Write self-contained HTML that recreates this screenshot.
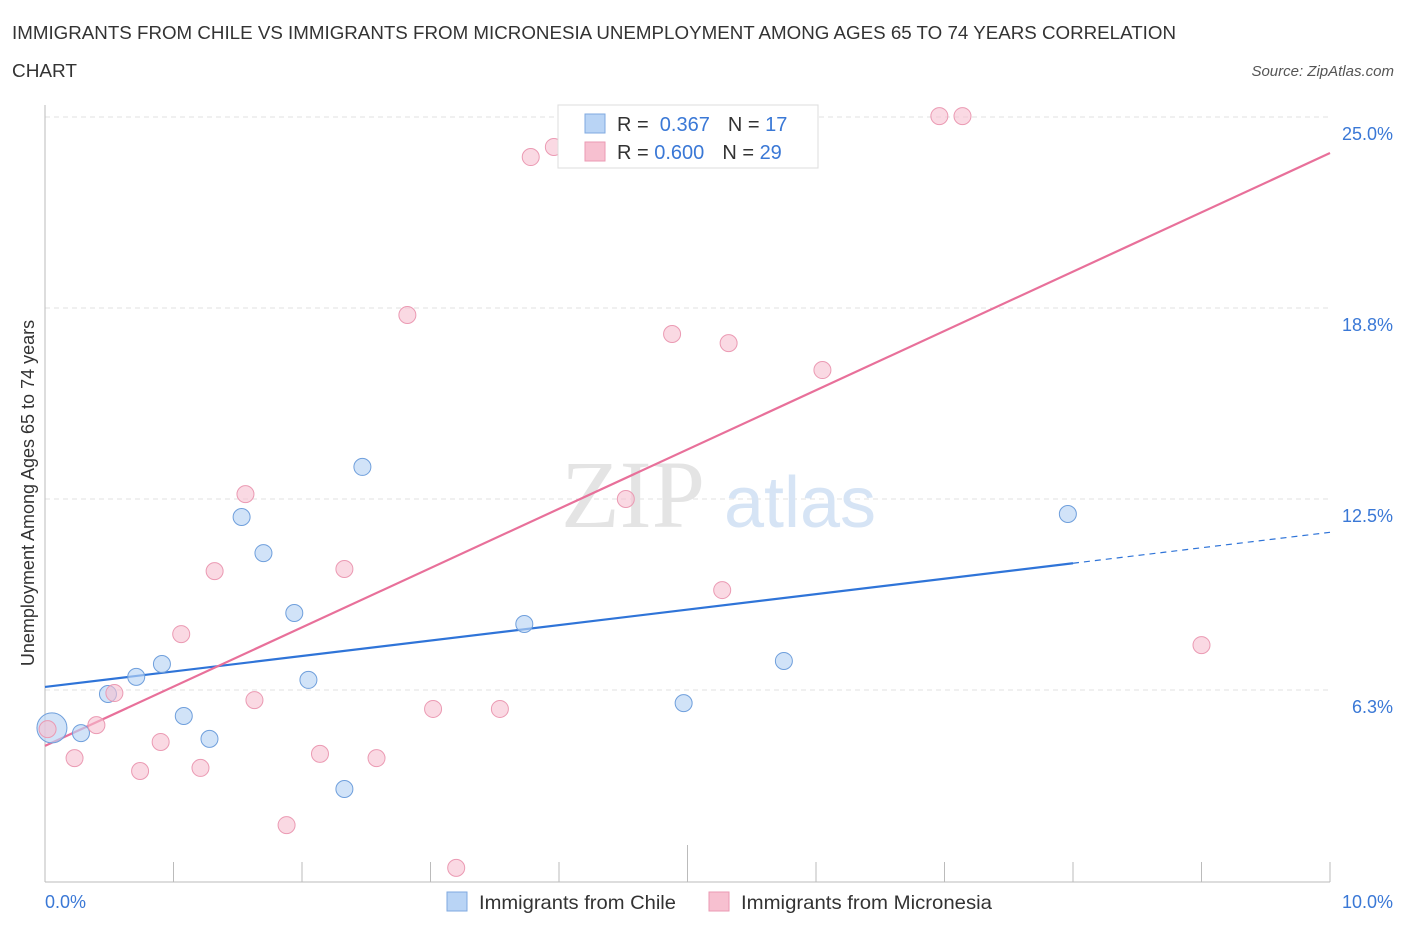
<!DOCTYPE html>
<html><head><meta charset="utf-8"><style>
body{margin:0;background:#fff;font-family:"Liberation Sans",sans-serif;}
svg{display:block}
</style></head><body>
<svg width="1406" height="930" viewBox="0 0 1406 930">
<text x="12" y="39" font-size="18" fill="#333" textLength="1164" lengthAdjust="spacingAndGlyphs">IMMIGRANTS FROM CHILE VS IMMIGRANTS FROM MICRONESIA UNEMPLOYMENT AMONG AGES 65 TO 74 YEARS CORRELATION</text>
<text x="12" y="77" font-size="18" fill="#333" textLength="65" lengthAdjust="spacingAndGlyphs">CHART</text>
<text x="1394" y="76" font-size="15" font-style="italic" fill="#555" text-anchor="end">Source: ZipAtlas.com</text>
<g id="grid"></g>
<g><text x="633" y="527" font-size="96" font-family="Liberation Serif,serif" fill="#e4e4e4" text-anchor="middle">ZIP</text><text x="800" y="527" font-size="72" fill="#d6e4f5" text-anchor="middle">atlas</text></g>
<g id="axes"></g>
<g id="lines"></g>
<g id="pts"></g>
<text x="28" y="493" font-size="18" fill="#333" text-anchor="middle" transform="rotate(-90 28 493)" dy="6">Unemployment Among Ages 65 to 74 years</text>
<text x="45" y="908" font-size="18" fill="#3a78d6">0.0%</text>
<text x="1393" y="908" font-size="18" fill="#3a78d6" text-anchor="end">10.0%</text>
<g>
<rect x="558" y="105" width="260" height="63" fill="#fff" stroke="#ddd"/>
<rect x="585" y="114" width="20" height="19" fill="#b9d4f5" stroke="#7fa9e0"/>
<rect x="585" y="142" width="20" height="19" fill="#f7c0d0" stroke="#eb9ab3"/>
<text x="617" y="131" font-size="20" fill="#333">R = <tspan fill="#3a78d6">&#160;0.367</tspan><tspan dx="18">N = </tspan><tspan fill="#3a78d6"> 17</tspan></text>
<text x="617" y="159" font-size="20" fill="#333">R = <tspan fill="#3a78d6">0.600</tspan><tspan dx="18">N = </tspan><tspan fill="#3a78d6">29</tspan></text>
</g>
<g>
<rect x="447" y="892" width="20" height="19" fill="#b9d4f5" stroke="#7fa9e0"/>
<text x="479" y="909" font-size="19.5" fill="#333" textLength="197" lengthAdjust="spacingAndGlyphs">Immigrants from Chile</text>
<rect x="709" y="892" width="20" height="19" fill="#f7c0d0" stroke="#eb9ab3"/>
<text x="741" y="909" font-size="19.5" fill="#333" textLength="251" lengthAdjust="spacingAndGlyphs">Immigrants from Micronesia</text>
</g>
</svg>
<script>
const chileX=[0.054,0.28,0.49,0.71,0.91,1.08,1.28,1.53,1.70,1.94,2.05,2.33,2.47,3.73,4.97,5.75,7.96];
const chileY=[5.01,4.84,6.12,6.68,7.10,5.40,4.65,11.91,10.73,8.77,6.58,3.01,13.55,8.41,5.82,7.20,12.01];
const microX=[0.02,0.23,0.40,0.54,0.74,0.90,1.06,1.21,1.32,1.56,1.63,1.88,2.14,2.33,2.58,2.82,3.02,3.20,3.54,3.78,3.96,4.52,4.88,5.27,5.32,6.05,6.96,7.14,9.00];
const microY=[4.97,4.02,5.10,6.15,3.60,4.55,8.08,3.70,10.14,12.66,5.92,1.83,4.16,10.21,4.02,18.52,5.63,0.43,5.63,23.69,24.02,12.50,17.90,9.52,17.60,16.72,25.03,25.03,7.72];
const yTicks=[6.25,12.5,18.75,25];
const yTickLabels=["6.3%","12.5%","18.8%","25.0%"];
const chileLine=[6.35,0.506];
const microLine=[4.42,1.94];
const NS="http://www.w3.org/2000/svg";
const sx=v=>45+v*128.5, sy=v=>881-v*30.56;
function mk(t,a,p){const e=document.createElementNS(NS,t);for(const k in a)e.setAttribute(k,a[k]);p.appendChild(e);return e;}
const grid=document.getElementById('grid'),axes=document.getElementById('axes'),lines=document.getElementById('lines'),pts=document.getElementById('pts');
yTicks.forEach((v,i)=>{
 const l=mk('line',{x1:45,x2:1330,y1:sy(v),y2:sy(v),stroke:'#e2e2e2','stroke-dasharray':'5,4'},grid);
 
 
 const t=mk('text',{x:1393,y:sy(v)+23,'font-size':18,fill:'#3a78d6','text-anchor':'end'},axes);
 t.textContent=yTickLabels[i];
 
 
});
mk('line',{x1:45,x2:45,y1:105,y2:882,stroke:'#bbb'},axes);
mk('line',{x1:45,x2:1330,y1:882,y2:882,stroke:'#bbb'},axes);
for(let i=1;i<=10;i++){
 const tk=mk('line',{x1:sx(i),x2:sx(i),y1:i==5?845:862,y2:882,stroke:'#bbb'},axes);
 
 
}
const bl=mk('line',{x1:sx(0),y1:sy(chileLine[0]),x2:sx(8),y2:sy(chileLine[0]+chileLine[1]*8),stroke:'#2f74d8','stroke-width':2.2},lines);


const bd=mk('line',{x1:sx(8),y1:sy(chileLine[0]+chileLine[1]*8),x2:sx(10),y2:sy(chileLine[0]+chileLine[1]*10),stroke:'#2f74d8','stroke-width':1.2,'stroke-dasharray':'6,5'},lines);


const pl=mk('line',{x1:sx(0),y1:sy(microLine[0]),x2:sx(10),y2:sy(microLine[0]+microLine[1]*10),stroke:'#e8709a','stroke-width':2.2},lines);


chileX.forEach((x,i)=>{
 const c=mk('circle',{cx:sx(x),cy:sy(chileY[i]),r:i==0?15:8.5,fill:'#b9d4f5','fill-opacity':0.65,stroke:'#6f9fdc','stroke-width':1},pts);
 
 
});
microX.forEach((x,i)=>{
 const c=mk('circle',{cx:sx(x),cy:sy(microY[i]),r:8.5,fill:'#f7c0d0','fill-opacity':0.6,stroke:'#eb9ab3','stroke-width':1},pts);
 
 
});
</script>
</body></html>
